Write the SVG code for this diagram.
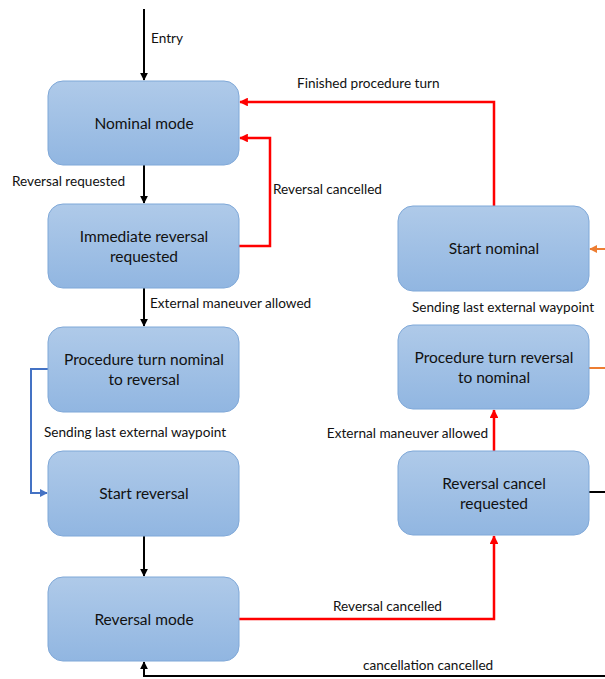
<svg xmlns="http://www.w3.org/2000/svg" width="605" height="679" viewBox="0 0 605 679">
<style>
.box{fill:url(#g);stroke:#7fa8d8;stroke-width:1}
.nt{font-family:Lato,"Open Sans","Liberation Sans",sans-serif;font-size:15.5px;fill:#111;text-anchor:middle}
.lb{font-family:Lato,"Open Sans","Liberation Sans",sans-serif;font-size:13.6px;fill:#111}
.k{fill:none;stroke:#000;stroke-width:2}
.r{fill:none;stroke:#ff0000;stroke-width:2.5}
.b{fill:none;stroke:#4472c4;stroke-width:2}
.o{fill:none;stroke:#ed7d31;stroke-width:2}
</style>
<defs>
<linearGradient id="g" x1="0" y1="0" x2="0" y2="1">
<stop offset="0" stop-color="#afcae9"/>
<stop offset="1" stop-color="#91b6e1"/>
</linearGradient>
<marker id="ak" viewBox="0 0 10 10" refX="9" refY="5" markerWidth="4" markerHeight="4" orient="auto" markerUnits="strokeWidth"><path d="M0,0L10,5L0,10z" fill="#000"/></marker>
<marker id="ar" viewBox="0 0 10 10" refX="9" refY="5" markerWidth="3.5" markerHeight="3.5" orient="auto" markerUnits="strokeWidth"><path d="M0,0L10,5L0,10z" fill="#ff0000"/></marker>
<marker id="ab" viewBox="0 0 10 10" refX="9" refY="5" markerWidth="4" markerHeight="4" orient="auto" markerUnits="strokeWidth"><path d="M0,0L10,5L0,10z" fill="#4472c4"/></marker>
<marker id="ao" viewBox="0 0 10 10" refX="9" refY="5" markerWidth="4" markerHeight="4" orient="auto" markerUnits="strokeWidth"><path d="M0,0L10,5L0,10z" fill="#ed7d31"/></marker>
</defs>
<g id="connectors">
<path class="k" d="M144,9V80" marker-end="url(#ak)"/>
<path class="k" d="M144,165V203" marker-end="url(#ak)"/>
<path class="k" d="M144,288V326" marker-end="url(#ak)"/>
<path class="b" d="M48,369H31V493H47" marker-end="url(#ab)"/>
<path class="k" d="M144,536V576" marker-end="url(#ak)"/>
<path class="r" d="M239,619H494V536" marker-end="url(#ar)"/>
<path class="r" d="M494,451V410" marker-end="url(#ar)"/>
<path class="r" d="M494,206V102H240" marker-end="url(#ar)"/>
<path class="r" d="M239,246H270V138H240" marker-end="url(#ar)"/>
<path class="o" d="M610,249H590" marker-end="url(#ao)"/>
<path class="o" d="M589,368H610"/>
<path class="k" d="M589,492H610"/>
<path class="k" d="M610,676H144V662" marker-end="url(#ak)"/>
<text class="lb" x="151" y="43">Entry</text>
<text class="lb" x="12" y="186">Reversal requested</text>
<text class="lb" x="297" y="88">Finished procedure turn</text>
<text class="lb" x="273" y="194">Reversal cancelled</text>
<text class="lb" x="150" y="308">External maneuver allowed</text>
<text class="lb" x="44" y="437">Sending last external waypoint</text>
<text class="lb" x="412" y="312">Sending last external waypoint</text>
<text class="lb" x="488" y="438" text-anchor="end">External maneuver allowed</text>
<text class="lb" x="333" y="611">Reversal cancelled</text>
<text class="lb" x="363" y="670">cancellation cancelled</text>
</g>
<g id="nominal-mode"><rect class="box" x="48" y="81" width="191" height="84" rx="15"/><text class="nt" x="144" y="129">Nominal mode</text></g>
<g id="immediate-reversal"><rect class="box" x="48" y="204" width="191" height="84" rx="15"/><text class="nt" x="144" y="242">Immediate reversal</text><text class="nt" x="144" y="262">requested</text></g>
<g id="proc-nom-rev"><rect class="box" x="48" y="327" width="191" height="85" rx="15"/><text class="nt" x="144" y="365">Procedure turn nominal</text><text class="nt" x="144" y="385">to reversal</text></g>
<g id="start-reversal"><rect class="box" x="48" y="451" width="191" height="85" rx="15"/><text class="nt" x="144" y="499">Start reversal</text></g>
<g id="reversal-mode"><rect class="box" x="48" y="577" width="191" height="84" rx="15"/><text class="nt" x="144" y="625">Reversal mode</text></g>
<g id="start-nominal"><rect class="box" x="398" y="206" width="191" height="85" rx="15"/><text class="nt" x="494" y="254">Start nominal</text></g>
<g id="proc-rev-nom"><rect class="box" x="398" y="325" width="191" height="84" rx="15"/><text class="nt" x="494" y="363">Procedure turn reversal</text><text class="nt" x="494" y="383">to nominal</text></g>
<g id="reversal-cancel"><rect class="box" x="398" y="451" width="191" height="84" rx="15"/><text class="nt" x="494" y="489">Reversal cancel</text><text class="nt" x="494" y="509">requested</text></g>
</svg>
